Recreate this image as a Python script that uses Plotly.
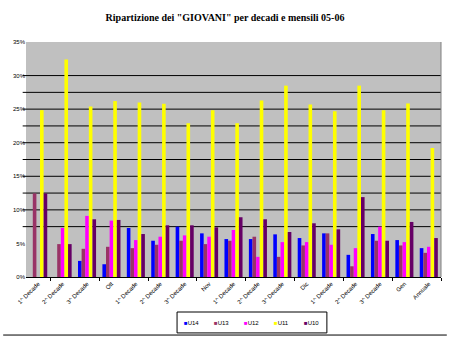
import plotly.graph_objects as go

categories = ["1^ Decade", "2^ Decade", "3^ Decade", "Ott",
              "1^ Decade", "2^ Decade", "3^ Decade", "Nov",
              "1^ Decade", "2^ Decade", "3^ Decade", "Dic",
              "1^ Decade", "2^ Decade", "3^ Decade", "Gen",
              "Annuale"]
series_names = ["U14", "U13", "U12", "U11", "U10"]
u14 = [0, 0, 2.4, 1.9, 7.3, 5.4, 7.5, 6.5, 5.65, 5.65, 6.35, 5.8, 6.5, 3.3, 6.4, 5.5, 4.3]
u13 = [12.45, 4.9, 4.2, 4.5, 4.3, 4.8, 5.4, 4.9, 5.4, 6.0, 3.0, 4.7, 6.5, 1.6, 5.4, 4.7, 3.6]
u12 = [0, 7.3, 9.1, 8.4, 5.5, 6.0, 6.2, 6.0, 7.0, 3.0, 5.2, 5.2, 4.8, 4.3, 7.5, 5.2, 4.5]
u11 = [24.85, 32.4, 25.4, 26.2, 26.0, 25.8, 22.9, 24.85, 22.9, 26.3, 28.5, 25.7, 24.7, 28.5, 24.85, 25.85, 19.2]
u10 = [12.45, 4.9, 8.6, 8.5, 6.4, 7.7, 7.7, 7.4, 8.9, 8.6, 6.7, 8.0, 7.1, 11.9, 5.4, 8.2, 5.8]
y_ticks = [0, 5, 10, 15, 20, 25, 30, 35]
y_tick_labels = ["0%", "5%", "10%", "15%", "20%", "25%", "30%", "35%"]
grid_values = [7.5, 10, 12.5, 15, 17.5, 20, 22.5, 25, 27.5, 30]

colors = ["#0000FF", "#993366", "#FF00FF", "#FFFF00", "#660066"]
all_series = [u14, u13, u12, u11, u10]

n = len(categories)
xs = list(range(n))

fig = go.Figure()
for name, vals, col in zip(series_names, all_series, colors):
    fig.add_trace(go.Bar(x=xs, y=vals, name=name, marker=dict(color=col, line=dict(width=0)),
                         showlegend=False))

shapes = []
for g in grid_values:
    shapes.append(dict(type="line", xref="paper", yref="y", x0=-0.008, x1=1, y0=g, y1=g,
                       line=dict(color="black", width=1), layer="below"))
# right border of plot area
shapes.append(dict(type="line", xref="paper", yref="paper", x0=1, x1=1, y0=0, y1=1,
                   line=dict(color="#808080", width=1)))
# legend box
shapes.append(dict(type="rect", xref="paper", yref="paper", x0=0.364, x1=0.725, y0=-0.238, y1=-0.149,
                   line=dict(color="black", width=1), fillcolor="white"))
# chart bottom border
shapes.append(dict(type="line", xref="paper", yref="paper", x0=-0.055, x1=1.014, y0=-0.247, y1=-0.247,
                   line=dict(color="black", width=1)))

annotations = []
for i, (name, col) in enumerate(zip(series_names, colors)):
    annotations.append(dict(xref="paper", yref="paper", x=0.376 + i * 0.0723, y=-0.194,
                            xanchor="left", yanchor="middle", showarrow=False,
                            text=f"<span style='color:{col}'>■</span>{name}",
                            font=dict(family="Liberation Sans", size=6, color="black")))

fig.update_layout(
    width=450, height=338,
    margin=dict(l=26, r=9, t=42, b=61),
    paper_bgcolor="white", plot_bgcolor="#C0C0C0",
    barmode="group", bargap=0.26, bargroupgap=0,
    title=dict(text="Ripartizione dei \"GIOVANI\" per decadi e mensili 05-06",
               x=0.5, xanchor="center", y=1 - 17 / 338, yanchor="middle",
               font=dict(family="Liberation Serif", size=10, color="black", weight="bold")),
    font=dict(family="Liberation Sans", size=6, color="black"),
    shapes=shapes, annotations=annotations,
)
fig.update_xaxes(range=[-0.5, n - 0.5], tickmode="array", tickvals=xs, ticktext=categories,
                 tickangle=-45, ticks="", showgrid=False, zeroline=False,
                 showline=True, linecolor="black", linewidth=1,
                 minor=dict(tickmode="array", tickvals=[k - 0.5 for k in range(1, n + 1, 2)],
                            ticks="outside", ticklen=3, tickcolor="black", showgrid=False),
                 tickfont=dict(size=6))
fig.update_yaxes(range=[0, 35], tickmode="array", tickvals=y_ticks, ticktext=y_tick_labels,
                 showgrid=False, zeroline=False, showline=False, ticks="",
                 tickfont=dict(size=6))

fig.write_html("out.html")
